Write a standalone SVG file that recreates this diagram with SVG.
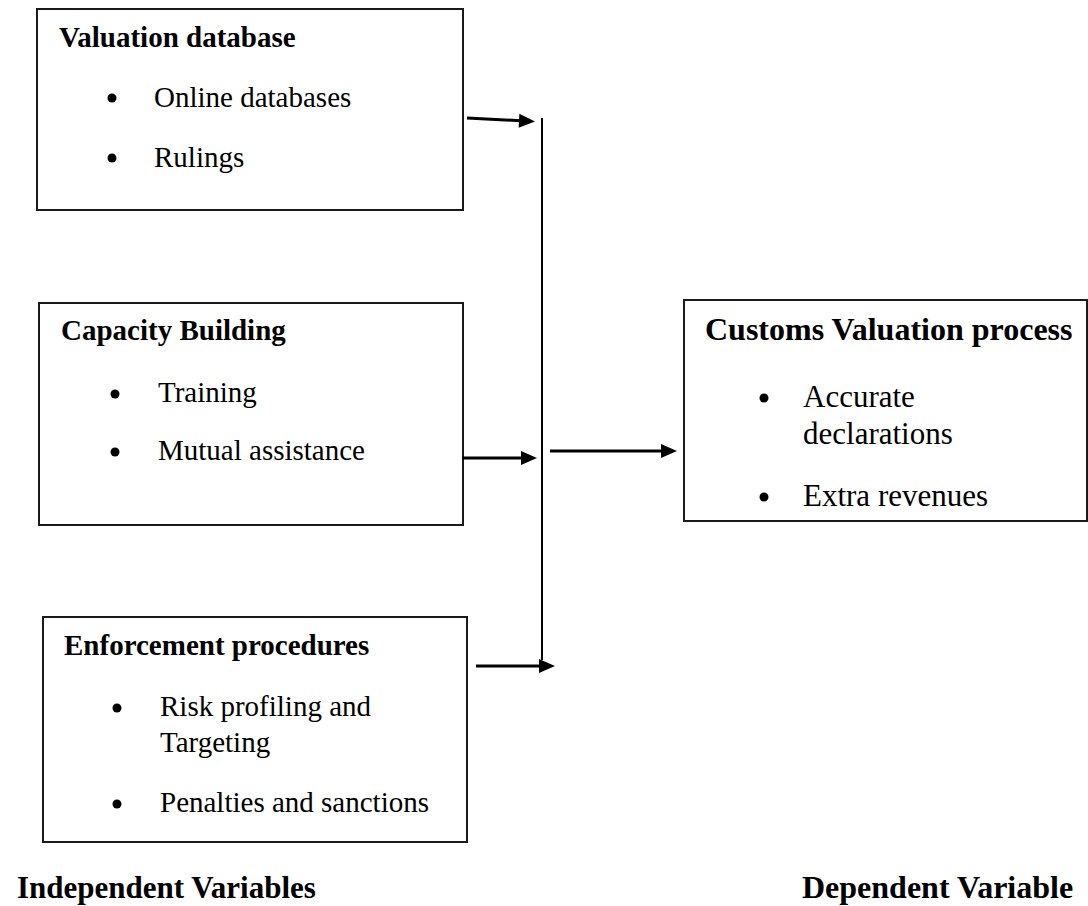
<svg xmlns="http://www.w3.org/2000/svg" width="1088" height="906" viewBox="0 0 1088 906">
  <style>
    .box { fill: #ffffff; stroke: #1a1a1a; stroke-width: 2; }
    .t { font-family: "Liberation Serif", "Times New Roman", serif; fill: #000; }
    .title { font-weight: bold; font-size: 29px; }
    .item { font-size: 29px; }
    .big { font-weight: bold; font-size: 32px; }
    .item31 { font-size: 31px; }
    .bul { fill: #000; }
    .conn { stroke: #000; stroke-width: 3; fill: none; }
    .bus { stroke: #000; stroke-width: 2; fill: none; }
  </style>
  <defs>
    <marker id="ah" markerUnits="userSpaceOnUse" markerWidth="16" markerHeight="14" refX="6" refY="7" orient="auto" overflow="visible">
      <path d="M0,0 L16,7 L0,14 Z" fill="#000"/>
    </marker>
  </defs>
  <rect width="1088" height="906" fill="#ffffff"/>

  <g id="node-valuation-database">
    <rect class="box" x="37" y="9" width="426" height="201"/>
    <text class="t title" x="59" y="47">Valuation database</text>
    <circle class="bul" cx="112" cy="98" r="4.5"/>
    <text class="t item" x="154" y="107">Online databases</text>
    <circle class="bul" cx="112" cy="158" r="4.5"/>
    <text class="t item" x="154" y="167">Rulings</text>
  </g>

  <g id="node-capacity-building">
    <rect class="box" x="39" y="303" width="424" height="222"/>
    <text class="t title" x="61" y="340">Capacity Building</text>
    <circle class="bul" cx="115" cy="394" r="4.5"/>
    <text class="t item" x="158" y="402">Training</text>
    <circle class="bul" cx="115" cy="452" r="4.5"/>
    <text class="t item" x="158" y="460">Mutual assistance</text>
  </g>

  <g id="node-customs-valuation">
    <rect class="box" x="684" y="300" width="403" height="221"/>
    <text class="t big" x="705" y="340">Customs Valuation process</text>
    <circle class="bul" cx="764" cy="398" r="4.5"/>
    <text class="t item31" x="803" y="407">Accurate</text>
    <text class="t item31" x="803" y="444">declarations</text>
    <circle class="bul" cx="764" cy="497" r="4.5"/>
    <text class="t item31" x="803" y="506">Extra revenues</text>
  </g>

  <g id="node-enforcement">
    <rect class="box" x="43" y="617" width="424" height="225"/>
    <text class="t title" x="64" y="655">Enforcement procedures</text>
    <circle class="bul" cx="117" cy="708" r="4.5"/>
    <text class="t item" x="160" y="716">Risk profiling and</text>
    <text class="t item" x="160" y="752">Targeting</text>
    <circle class="bul" cx="117" cy="804" r="4.5"/>
    <text class="t item" x="160" y="812">Penalties and sanctions</text>
  </g>

  <g id="labels">
    <text class="t" font-weight="bold" font-size="31" x="17" y="898">Independent Variables</text>
    <text class="t big" x="802" y="898">Dependent Variable</text>
  </g>

  <g id="connectors">
    <line class="bus" x1="542" y1="118" x2="542" y2="660"/>
    <line class="conn" x1="467" y1="118" x2="525" y2="121" marker-end="url(#ah)"/>
    <line class="conn" x1="462" y1="458" x2="527" y2="458" marker-end="url(#ah)"/>
    <line class="conn" x1="550" y1="451" x2="667" y2="451" marker-end="url(#ah)"/>
    <line class="conn" x1="476" y1="666" x2="545" y2="666" marker-end="url(#ah)"/>
  </g>
</svg>
